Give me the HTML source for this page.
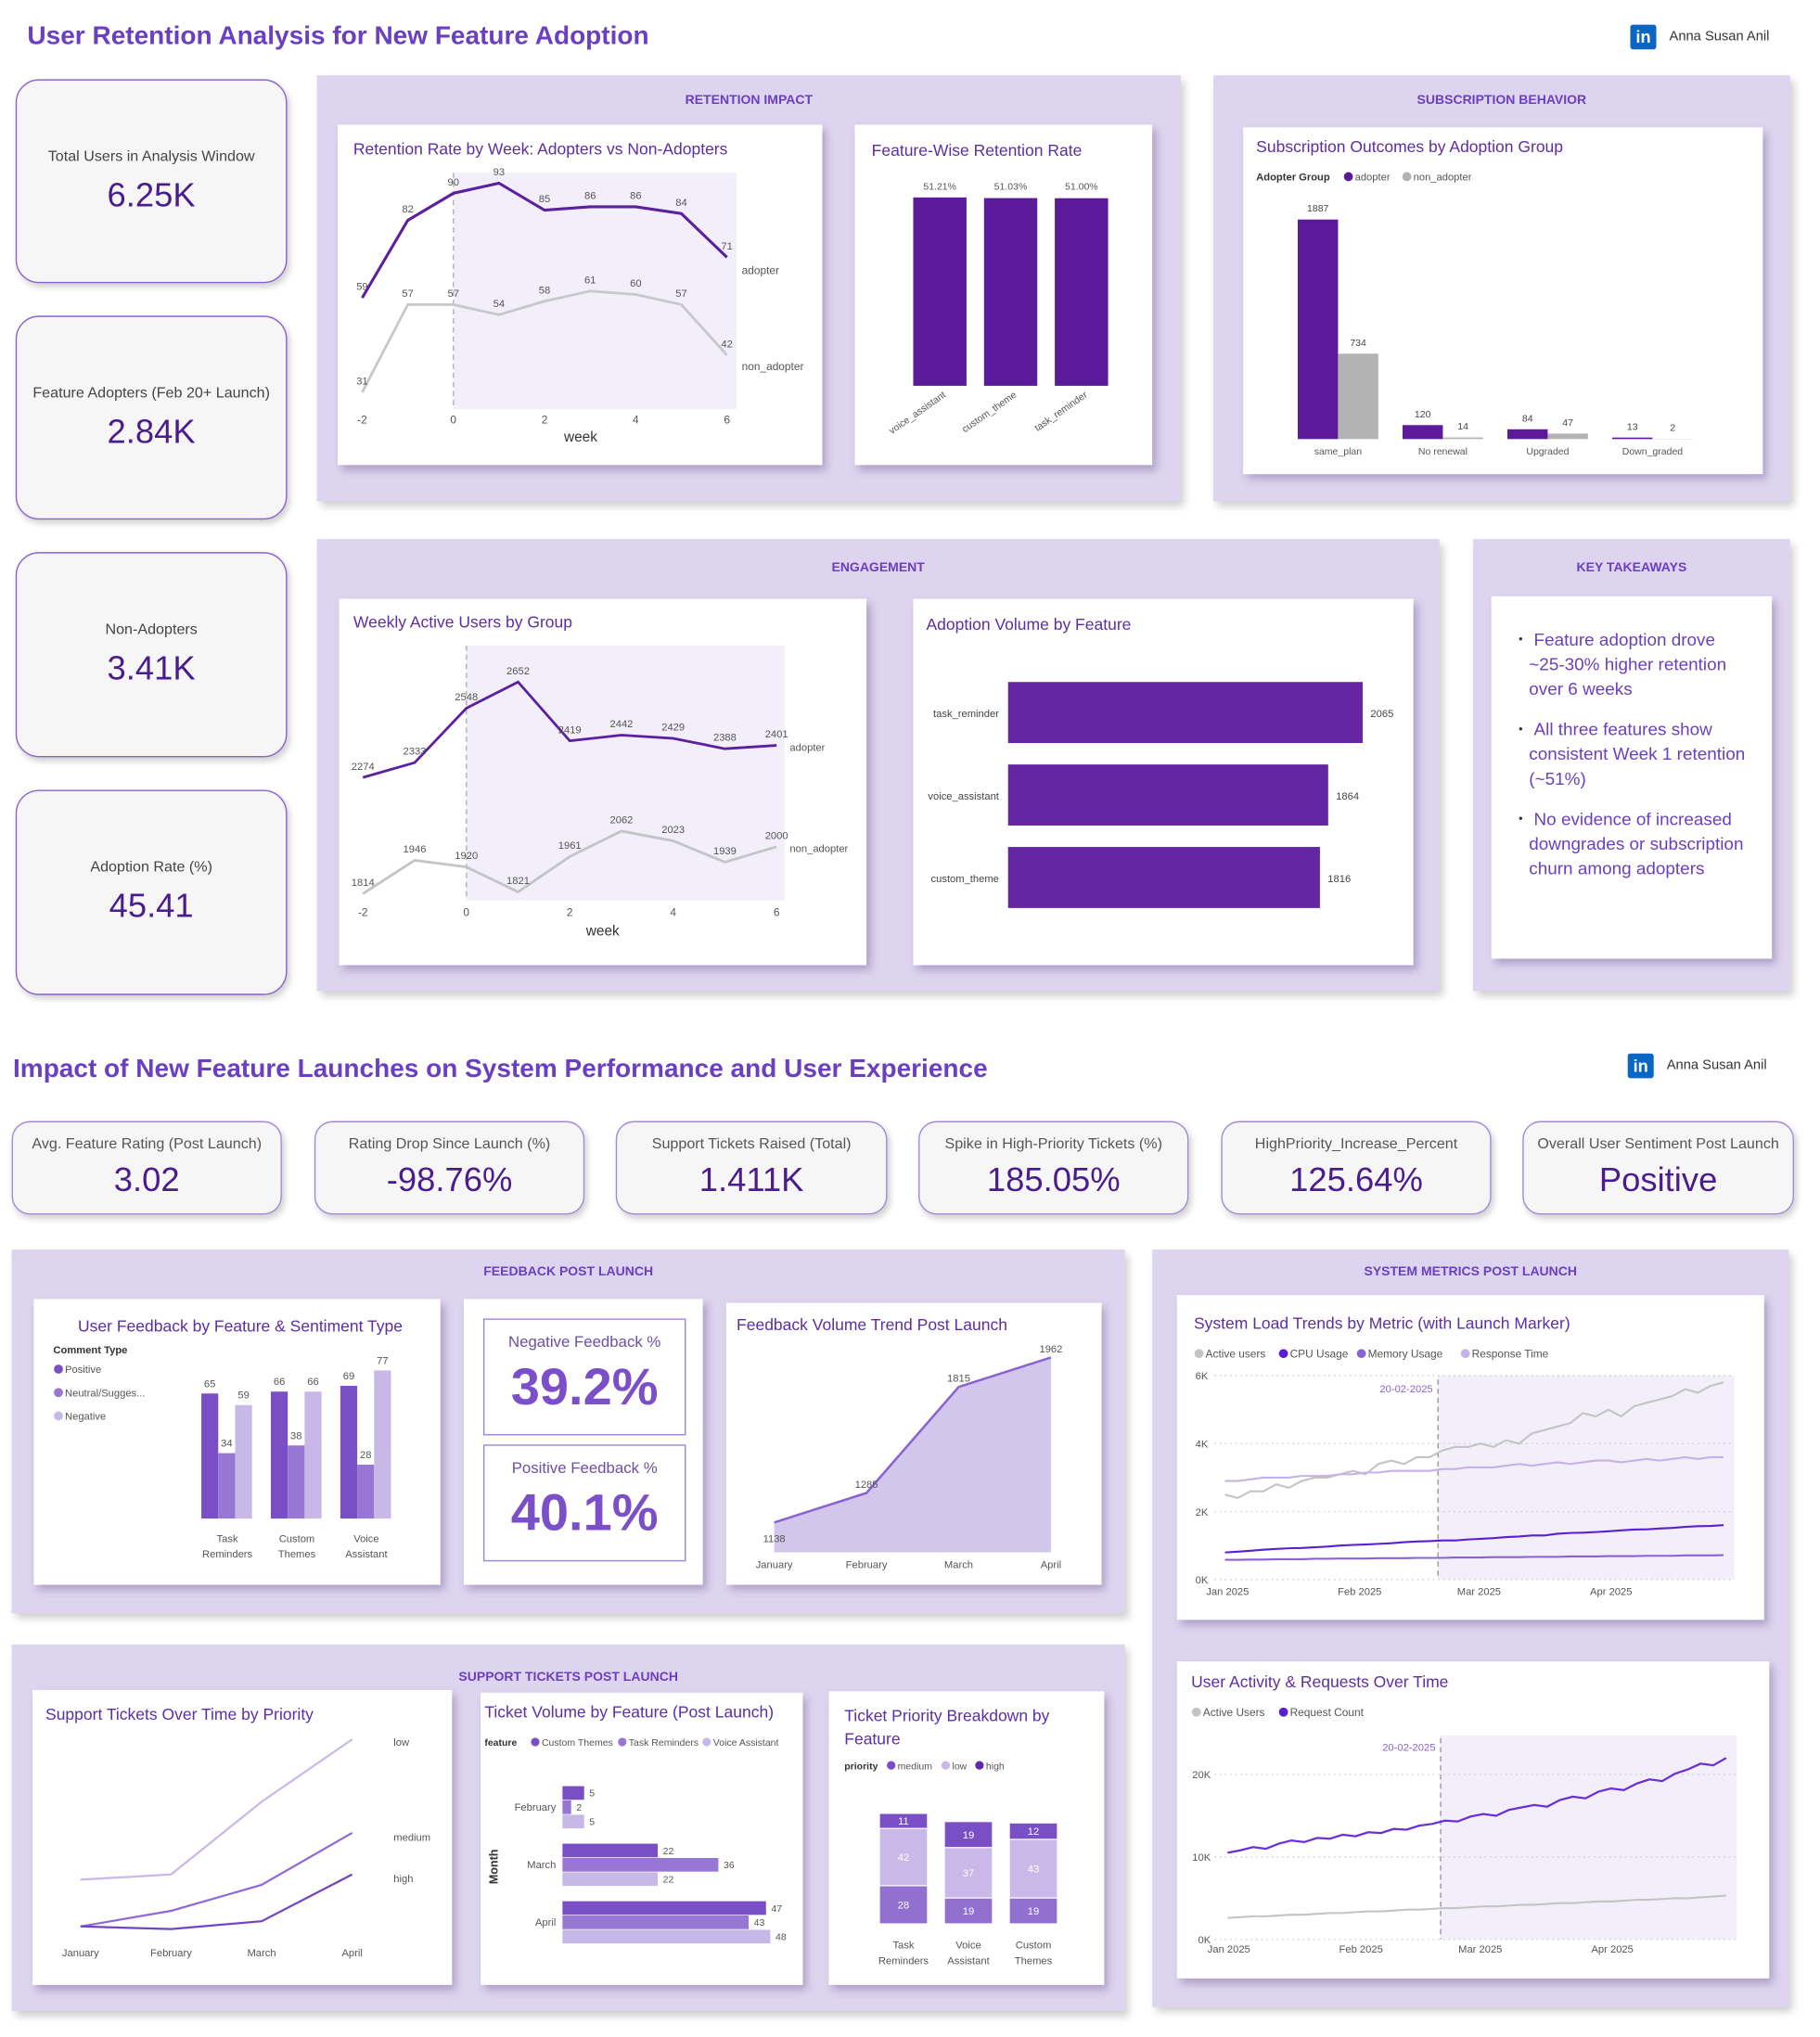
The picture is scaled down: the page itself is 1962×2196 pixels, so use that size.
<!DOCTYPE html>
<html><head><meta charset="utf-8">
<style>
html,body{margin:0;padding:0;background:#fff;}
body{width:1962px;height:2196px;overflow:hidden;font-family:"Liberation Sans",sans-serif;}
#wrap{position:absolute;left:0;top:0;width:1401px;height:1568px;transform:scale(1.4004);transform-origin:0 0;}
.abs{position:absolute;box-sizing:border-box;}
.title{color:#6b3fc1;font-weight:bold;font-size:20px;white-space:nowrap;}
.kpi{background:#f6f6f7;border:1.5px solid #8a63d2;border-radius:18px;box-shadow:2px 3px 5px rgba(0,0,0,.18);text-align:center;color:#444;}
.kpi .l{font-size:11.5px;color:#444;}
.kpi .v{font-size:26px;color:#4a1d8f;margin-top:8px;}
.kpi2{background:#f6f6f7;border:1.5px solid #a58ad8;border-radius:14px;box-shadow:2px 3px 5px rgba(0,0,0,.18);text-align:center;}
.kpi2 .l{font-size:11.5px;color:#555;margin-top:11px;}
.kpi2 .v{font-size:26px;color:#4a1d8f;margin-top:6px;}
.panel{background:#ddd4ef;box-shadow:3px 4px 6px rgba(0,0,0,.2);}
.ph{position:absolute;left:0;right:0;text-align:center;color:#6b3fc1;font-weight:bold;font-size:10px;}
.card{background:#fff;box-shadow:3px 4px 6px rgba(80,60,120,.35);}
.ct{position:absolute;color:#5b2ea6;font-size:12.5px;white-space:nowrap;}
.li{font-size:12px;color:#333;}
svg text{font-family:"Liberation Sans",sans-serif;}
</style></head>
<body>
<div id="wrap">
<div class="abs title" style="left:21px;top:17px">User Retention Analysis for New Feature Adoption</div>
<div class="abs" style="left:1255px;top:19px;width:20px;height:19px;background:#0a66c2;border-radius:2px;color:#fff;font-weight:bold;font-size:13px;text-align:center;line-height:19px">in</div>
<div class="abs li" style="left:1285px;top:22px;font-size:10.5px">Anna Susan Anil</div>

<div class="abs kpi" style="left:12px;top:61px;width:209px;height:157px;padding-top:53px"><div class="l">Total Users in Analysis Window</div><div class="v">6.25K</div></div>
<div class="abs kpi" style="left:12px;top:243px;width:209px;height:157px;padding-top:53px"><div class="l">Feature Adopters (Feb 20+ Launch)</div><div class="v">2.84K</div></div>
<div class="abs kpi" style="left:12px;top:425px;width:209px;height:158px;padding-top:53px"><div class="l">Non-Adopters</div><div class="v">3.41K</div></div>
<div class="abs kpi" style="left:12px;top:608px;width:209px;height:158px;padding-top:53px"><div class="l">Adoption Rate (%)</div><div class="v">45.41</div></div>

<div class="abs panel" style="left:244px;top:58px;width:665px;height:328px"><div class="ph" style="top:14px">RETENTION IMPACT</div></div>
<div class="abs card" style="left:260px;top:96px;width:373px;height:262px"><div class="ct" style="left:12px;top:12px">Retention Rate by Week: Adopters vs Non-Adopters</div></div>
<div class="abs card" style="left:658px;top:96px;width:229px;height:262px"><div class="ct" style="left:13px;top:13px">Feature-Wise Retention Rate</div></div>

<div class="abs panel" style="left:934px;top:58px;width:444px;height:328px"><div class="ph" style="top:14px">SUBSCRIPTION BEHAVIOR</div></div>
<div class="abs card" style="left:957px;top:98px;width:400px;height:267px"><div class="ct" style="left:10px;top:8px">Subscription Outcomes by Adoption Group</div></div>

<div class="abs panel" style="left:244px;top:415px;width:864px;height:348px"><div class="ph" style="top:17px">ENGAGEMENT</div></div>
<div class="abs card" style="left:261px;top:461px;width:406px;height:282px"><div class="ct" style="left:11px;top:11px">Weekly Active Users by Group</div></div>
<div class="abs card" style="left:703px;top:461px;width:385px;height:282px"><div class="ct" style="left:10px;top:13px">Adoption Volume by Feature</div></div>

<div class="abs panel" style="left:1134px;top:415px;width:244px;height:348px"><div class="ph" style="top:17px">KEY TAKEAWAYS</div></div>
<div class="abs card" style="left:1148px;top:459px;width:216px;height:279px;color:#6b3fc1;font-size:13.5px;line-height:19px">
<div class="abs" style="left:29px;top:24px;width:168px"><span style="position:absolute;left:-8px;font-size:9px;color:#333">•</span>&nbsp;Feature adoption drove ~25-30% higher retention over 6 weeks</div>
<div class="abs" style="left:29px;top:93px;width:168px"><span style="position:absolute;left:-8px;font-size:9px;color:#333">•</span>&nbsp;All three features show consistent Week 1 retention (~51%)</div>
<div class="abs" style="left:29px;top:162px;width:168px"><span style="position:absolute;left:-8px;font-size:9px;color:#333">•</span>&nbsp;No evidence of increased downgrades or subscription churn among adopters</div>
</div>

<div class="abs title" style="left:10px;top:812px">Impact of New Feature Launches on System Performance and User Experience</div>
<div class="abs" style="left:1253px;top:811px;width:20px;height:19px;background:#0a66c2;border-radius:2px;color:#fff;font-weight:bold;font-size:13px;text-align:center;line-height:19px">in</div>
<div class="abs li" style="left:1283px;top:814px;font-size:10.5px">Anna Susan Anil</div>

<div class="abs kpi2" style="left:9px;top:863px;width:208px;height:72px"><div class="l">Avg. Feature Rating (Post Launch)</div><div class="v">3.02</div></div>
<div class="abs kpi2" style="left:242px;top:863px;width:208px;height:72px"><div class="l">Rating Drop Since Launch (%)</div><div class="v">-98.76%</div></div>
<div class="abs kpi2" style="left:474px;top:863px;width:209px;height:72px"><div class="l">Support Tickets Raised (Total)</div><div class="v">1.411K</div></div>
<div class="abs kpi2" style="left:707px;top:863px;width:208px;height:72px"><div class="l">Spike in High-Priority Tickets (%)</div><div class="v">185.05%</div></div>
<div class="abs kpi2" style="left:940px;top:863px;width:208px;height:72px"><div class="l">HighPriority_Increase_Percent</div><div class="v">125.64%</div></div>
<div class="abs kpi2" style="left:1172px;top:863px;width:209px;height:72px"><div class="l">Overall User Sentiment Post Launch</div><div class="v">Positive</div></div>

<div class="abs panel" style="left:9px;top:962px;width:857px;height:280px"><div class="ph" style="top:12px">FEEDBACK POST LAUNCH</div></div>
<div class="abs card" style="left:26px;top:1000px;width:313px;height:220px"><div class="ct" style="left:34px;top:14px">User Feedback by Feature &amp; Sentiment Type</div></div>
<div class="abs card" style="left:357px;top:1000px;width:184px;height:220px">
<div class="abs" style="left:15px;top:15px;width:156px;height:90px;border:1.5px solid #9f86d6;text-align:center"><div style="font-size:12px;color:#6b4fa8;margin-top:10px">Negative Feedback %</div><div style="font-size:40px;font-weight:bold;color:#7a4fc8;margin-top:6px">39.2%</div></div>
<div class="abs" style="left:15px;top:112px;width:156px;height:90px;border:1.5px solid #9f86d6;text-align:center"><div style="font-size:12px;color:#6b4fa8;margin-top:10px">Positive Feedback %</div><div style="font-size:40px;font-weight:bold;color:#7a4fc8;margin-top:6px">40.1%</div></div>
</div>
<div class="abs card" style="left:559px;top:1003px;width:289px;height:217px"><div class="ct" style="left:8px;top:10px">Feedback Volume Trend Post Launch</div></div>

<div class="abs panel" style="left:887px;top:962px;width:490px;height:583px"><div class="ph" style="top:12px">SYSTEM METRICS POST LAUNCH</div></div>
<div class="abs card" style="left:906px;top:997px;width:452px;height:250px"><div class="ct" style="left:13px;top:15px">System Load Trends by Metric (with Launch Marker)</div></div>
<div class="abs card" style="left:906px;top:1279px;width:456px;height:244px"><div class="ct" style="left:11px;top:9px">User Activity &amp; Requests Over Time</div></div>

<div class="abs panel" style="left:9px;top:1266px;width:857px;height:282px"><div class="ph" style="top:20px">SUPPORT TICKETS POST LAUNCH</div></div>
<div class="abs card" style="left:25px;top:1301px;width:323px;height:227px"><div class="ct" style="left:10px;top:12px">Support Tickets Over Time by Priority</div></div>
<div class="abs card" style="left:370px;top:1303px;width:248px;height:225px"><div class="ct" style="left:3px;top:8px">Ticket Volume by Feature (Post Launch)</div></div>
<div class="abs card" style="left:638px;top:1302px;width:212px;height:226px"><div class="ct" style="left:12px;top:10px;line-height:18px">Ticket Priority Breakdown by<br>Feature</div></div>

<svg id="charts" class="abs" style="left:0;top:0" width="1401" height="1568" viewBox="0 0 1401 1568"></svg>
</div>

<script>
// ---- Retention by week
const retWeeks=[-2,-1,0,1,2,3,4,5,6];
const retAdopter=[59,82,90,93,85,86,86,84,71];
const retNon=[31,57,57,54,58,61,60,57,42];
const retTicks=[-2,0,2,4,6];
// ---- Feature retention
const featNames=['voice_assistant','custom_theme','task_reminder'];
const featRet=[51.21,51.03,51.00];
const featLabels=['51.21%','51.03%','51.00%'];
// ---- Subscription
const subCats=['same_plan','No renewal','Upgraded','Down_graded'];
const subAdopter=[1887,120,84,13];
const subNon=[734,14,47,2];
// ---- WAU
const wauWeeks=[-2,-1,0,1,2,3,4,5,6];
const wauAdopter=[2274,2333,2548,2652,2419,2442,2429,2388,2401];
const wauNon=[1814,1946,1920,1821,1961,2062,2023,1939,2000];
// ---- Adoption volume
const advFeat=['task_reminder','voice_assistant','custom_theme'];
const advVals=[2065,1864,1816];
// ---- Feedback sentiment
const fbFeat=[['Task','Reminders'],['Custom','Themes'],['Voice','Assistant']];
const fbPos=[65,66,69];
const fbNeu=[34,38,28];
const fbNeg=[59,66,77];
// ---- Feedback volume
const fvMonths=['January','February','March','April'];
const fvVals=[1138,1285,1815,1962];
// ---- System load (every 3 days from Jan 1)
const sysActive=[2.5,2.4,2.6,2.6,2.8,2.7,2.9,3.0,3.0,3.1,3.2,3.1,3.4,3.5,3.4,3.6,3.6,3.8,3.9,3.9,4.0,3.9,4.1,4.0,4.3,4.4,4.5,4.6,4.9,4.8,5.0,4.8,5.1,5.2,5.3,5.4,5.6,5.5,5.7,5.8];
const sysResponse=[2.9,2.9,2.95,3.0,3.0,3.0,3.05,3.05,3.05,3.1,3.1,3.15,3.15,3.2,3.2,3.2,3.2,3.25,3.25,3.3,3.3,3.3,3.35,3.4,3.35,3.4,3.45,3.4,3.45,3.5,3.5,3.45,3.5,3.55,3.5,3.55,3.6,3.55,3.6,3.6];
const sysCpu=[0.8,0.82,0.85,0.88,0.9,0.92,0.93,0.95,0.97,1.0,1.02,1.03,1.05,1.07,1.1,1.12,1.13,1.15,1.15,1.18,1.2,1.22,1.25,1.27,1.3,1.3,1.35,1.37,1.38,1.4,1.42,1.45,1.47,1.48,1.5,1.52,1.55,1.57,1.58,1.6];
const sysMem=[0.58,0.58,0.59,0.59,0.6,0.6,0.6,0.61,0.61,0.62,0.62,0.62,0.63,0.63,0.63,0.64,0.64,0.64,0.65,0.65,0.65,0.66,0.66,0.66,0.67,0.67,0.67,0.68,0.68,0.68,0.69,0.69,0.69,0.7,0.7,0.7,0.71,0.71,0.71,0.72];
const sysTicks=[0,2,4,6];
const dateTicks=['Jan 2025','Feb 2025','Mar 2025','Apr 2025'];
const dateTickDays=[0,31,59,90];
const launchDay=50;
// ---- User activity
const uaRequests=[10.5,10.8,11.2,11.0,11.6,12.0,11.8,12.3,12.2,12.7,12.5,13.0,12.9,13.4,13.3,13.8,14.0,14.4,14.3,14.9,15.2,15.0,15.7,16.0,16.3,16.1,16.9,17.3,17.1,17.9,18.3,18.1,18.9,19.4,19.2,20.1,20.6,21.3,21.1,22.0];
const uaActive=[2.6,2.7,2.8,2.8,2.9,3.0,3.0,3.1,3.2,3.2,3.3,3.4,3.4,3.5,3.6,3.6,3.7,3.8,3.8,3.9,4.0,4.0,4.1,4.2,4.2,4.3,4.4,4.4,4.5,4.6,4.6,4.7,4.8,4.8,4.9,5.0,5.0,5.1,5.2,5.3];
const uaTicks=[0,10,20];
// ---- Tickets over time
const tkMonths=['January','February','March','April'];
const tkLow=[10,11,25,37];
const tkMedium=[1,4,9,19];
const tkHigh=[1,0.5,2,11];
// ---- Ticket volume by feature
const tvMonths=['February','March','April'];
const tvCustom=[5,22,47];
const tvTask=[2,36,43];
const tvVoice=[5,22,48];
// ---- Ticket priority
const tpFeat=[['Task','Reminders'],['Voice','Assistant'],['Custom','Themes']];
const tpHigh=[28,19,19];
const tpLow=[42,37,43];
const tpMedium=[11,19,12];

const S=document.getElementById('charts');
const NS='http://www.w3.org/2000/svg';
function mk(tag,a){const e=document.createElementNS(NS,tag);for(const k in a)e.setAttribute(k,a[k]);S.appendChild(e);return e;}
function tx(x,y,s,size,fill,anchor,extra){const e=mk('text',Object.assign({x:x,y:y,'font-size':size,fill:fill||'#555','text-anchor':anchor||'middle'},extra||{}));e.textContent=s;return e;}
function pts(xs,ys){return xs.map((x,i)=>x.toFixed(1)+','+ys[i].toFixed(1)).join(' ');}

// Retention chart
(function(){
 const X=w=>349+w*35.1, Y=v=>302-(v-31)*2.597;
 let r=mk('rect',{x:X(0),y:133,width:567-X(0),height:182,fill:'#f2eefa'});
 
 let d=mk('line',{x1:X(0),x2:X(0),y1:133,y2:315,stroke:'#bbb','stroke-dasharray':'4,3','stroke-width':1.2});
 
 let l1=mk('polyline',{points:pts(retWeeks.map(X),retNon.map(Y)),fill:'none',stroke:'#c8c8cc','stroke-width':2});
 
 let l2=mk('polyline',{points:pts(retWeeks.map(X),retAdopter.map(Y)),fill:'none',stroke:'#5b1fa0','stroke-width':2.2});
 
 retWeeks.forEach((w,i)=>{
  let a=tx(X(w),Y(retAdopter[i])-6,retAdopter[i],8,'#555');
  let b=tx(X(w),Y(retNon[i])-6,retNon[i],8,'#555');
 });
 retTicks.forEach(t=>{let e=tx(X(t),326,t,8.5,'#555');});
 let xt=tx(447,340,'week',11,'#333');
 let s1=tx(571,211,'adopter',8.5,'#555','start');
 let s2=tx(571,285,'non_adopter',8.5,'#555','start');
})();

// Feature retention bars
(function(){
 const base=297,k=145/51.21;
 featNames.forEach((f,i)=>{
  const cx=723.5+i*54.5,h=featRet[i]*k;
  let b=mk('rect',{x:cx-20.5,y:base-h,width:41,height:h,fill:'#5b1a9a'});
  
  let l=tx(cx,146,featLabels[i],7.5,'#555');
  let c=tx(cx+5,305,f,7.5,'#555','end',{transform:`rotate(-35 ${cx+5} 305)`});
 });
})();

// Subscription grouped bars
(function(){
 const base=338,k=169/1887;
 let lg=tx(967,139,'Adopter Group',8,'#333','start',{'font-weight':'bold'});
 let c1=mk('circle',{cx:1038,cy:136,r:3.5,fill:'#5b1a9a'});
 let t1=tx(1043,139,'adopter',8,'#555','start');
 let c2=mk('circle',{cx:1083,cy:136,r:3.5,fill:'#b3b3b3'});
 let t2=tx(1088,139,'non_adopter',8,'#555','start');
 subCats.forEach((c,i)=>{
  const cx=1030+i*80.7;
  const ha=subAdopter[i]*k,hn=subNon[i]*k;
  let a=mk('rect',{x:cx-31,y:base-ha,width:31,height:ha,fill:'#5b1a9a'});
  let n=mk('rect',{x:cx,y:base-hn,width:31,height:hn,fill:'#b3b3b3'});
  let la=tx(cx-15.5,base-ha-6,subAdopter[i],7.5,'#444');
  let ln=tx(cx+15.5,base-hn-6,subNon[i],7.5,'#444');
  let cl=tx(cx,350,c,7.5,'#555');
 });
})();

// WAU chart
(function(){
 const X=w=>359+w*39.8, Y=v=>688-(v-1814)*0.1945;
 let bg=mk('rect',{x:X(0),y:497,width:604-X(0),height:196,fill:'#f2eefa'});
 let d=mk('line',{x1:X(0),x2:X(0),y1:497,y2:693,stroke:'#bbb','stroke-dasharray':'4,3','stroke-width':1.2});
 let l1=mk('polyline',{points:pts(wauWeeks.map(X),wauNon.map(Y)),fill:'none',stroke:'#c3c3c8','stroke-width':2});
 let l2=mk('polyline',{points:pts(wauWeeks.map(X),wauAdopter.map(Y)),fill:'none',stroke:'#5b1fa0','stroke-width':2});
 wauWeeks.forEach((w,i)=>{
  let a=tx(X(w),Y(wauAdopter[i])-6,wauAdopter[i],8,'#555');
  let b=tx(X(w),Y(wauNon[i])-6,wauNon[i],8,'#555');
 });
 retTicks.forEach(t=>{let e=tx(X(t),705,t,8.5,'#555');});
 let xt=tx(464,720,'week',11,'#333');
 let s1=tx(608,578,'adopter',8,'#555','start');
 let s2=tx(608,656,'non_adopter',8,'#555','start');
})();

// Adoption volume horizontal bars
(function(){
 const x0=776,k=273/2065;
 advFeat.forEach((f,i)=>{
  const y=525+i*63.5,w=advVals[i]*k;
  let b=mk('rect',{x:x0,y:y,width:w,height:47,fill:'#6426a3'});
  let v=tx(x0+w+6,y+27,advVals[i],8,'#444','start');
  let c=tx(769,y+27,f,8,'#444','end');
 });
})();

// Feedback sentiment grouped bars
(function(){
 const base=1169,k=114/77,cols=['#7a4fc6','#9877d4','#c8b8e8'];
 let lt=tx(41,1042,'Comment Type',8,'#333','start',{'font-weight':'bold'});
 ['Positive','Neutral/Sugges...','Negative'].forEach((n,i)=>{
  let c=mk('circle',{cx:45,cy:1054+i*18,r:3.5,fill:cols[i]});
  let t=tx(50,1057+i*18,n,8,'#555','start');
 });
 fbFeat.forEach((f,i)=>{
  const gx=155+i*53.5;
  [fbPos,fbNeu,fbNeg].forEach((arr,j)=>{
   const h=arr[i]*k,x=gx+j*13;
   let b=mk('rect',{x:x,y:base-h,width:13,height:h,fill:cols[j]});
   let v=tx(x+6.5,base-h-5,arr[i],8,'#555');
  });
  let a=tx(gx+20,1187,f[0],8,'#555');
  let b=tx(gx+20,1199,f[1],8,'#555');
 });
})();

// Feedback volume area
(function(){
 const X=i=>596+i*71, Y=v=>1172-(v-1138)*0.1541;
 const xs=fvMonths.map((m,i)=>X(i)),ys=fvVals.map(Y);
 let ar=mk('polygon',{points:pts(xs,ys)+` ${X(3)},1195 ${X(0)},1195`,fill:'#d3c6ec'});
 let ln=mk('polyline',{points:pts(xs,ys),fill:'none',stroke:'#8a63d2','stroke-width':1.8});
 fvMonths.forEach((m,i)=>{
  let v=tx(xs[i],ys[i]+(i==0?15:-4),fvVals[i],8,'#555');
  let t=tx(xs[i],1207,m,8,'#555');
 });
})();

// System load
(function(){
 const X=d=>943+d*3.28, Y=v=>1216-v*26.17;
 const days=sysActive.map((v,i)=>i*3);
 let sh=mk('rect',{x:X(launchDay),y:1059,width:1335-X(launchDay),height:157,fill:'#f2eefa'});
 sysTicks.forEach(t=>{
  let g=mk('line',{x1:935,x2:1335,y1:Y(t),y2:Y(t),stroke:'#ccc','stroke-dasharray':'1,3'});
  let l=tx(930,Y(t)+3,t+'K',8,'#555','end');
 });
 dateTicks.forEach((d,i)=>{let l=tx(X(dateTickDays[i])+2,1228,d,8,'#555');});
 let lm=mk('line',{x1:X(launchDay),x2:X(launchDay),y1:1062,y2:1216,stroke:'#999','stroke-dasharray':'4,3'});
 let lt=tx(X(launchDay)-4,1072,'20-02-2025',8,'#8a63d2','end');
 const ser=[[sysActive,'#c4c4c4','active-users-line'],[sysResponse,'#c4b2ea','response-time-line'],[sysCpu,'#5a1fd0','cpu-usage-line'],[sysMem,'#8a63d2','memory-usage-line']];
 ser.forEach(s=>{let p=mk('polyline',{points:pts(days.map(X),s[0].map(Y)),fill:'none',stroke:s[1],'stroke-width':1.5});});
 const lg=[['Active users','#c4c4c4',920],['CPU Usage','#5a1fd0',985],['Memory Usage','#8a63d2',1045],['Response Time','#c4b2ea',1125]];
 lg.forEach(e=>{let c=mk('circle',{cx:e[2]+3,cy:1042,r:3.5,fill:e[1]});
  let t=tx(e[2]+8,1045,e[0],8.5,'#555','start');});
})();

// User activity
(function(){
 const X=d=>945+d*3.28, Y=v=>1493-v*6.35;
 const days=uaRequests.map((v,i)=>i*3);
 let sh=mk('rect',{x:X(launchDay),y:1336,width:1337-X(launchDay),height:157,fill:'#f2eefa'});
 uaTicks.forEach(t=>{
  let g=mk('line',{x1:935,x2:1337,y1:Y(t),y2:Y(t),stroke:'#ccc','stroke-dasharray':'1,3'});
  let l=tx(932,Y(t)+3,t+'K',8,'#555','end');
 });
 dateTicks.forEach((d,i)=>{let l=tx(X(dateTickDays[i])+1,1503,d,8,'#555');});
 let lm=mk('line',{x1:X(launchDay),x2:X(launchDay),y1:1338,y2:1493,stroke:'#999','stroke-dasharray':'4,3'});
 let lt=tx(X(launchDay)-4,1348,'20-02-2025',8,'#8a63d2','end');
 let a=mk('polyline',{points:pts(days.map(X),uaActive.map(Y)),fill:'none',stroke:'#c4c4c4','stroke-width':1.5});
 let r=mk('polyline',{points:pts(days.map(X),uaRequests.map(Y)),fill:'none',stroke:'#6a2fd6','stroke-width':1.6});
 [['Active Users','#c4c4c4',918],['Request Count','#5a1fd0',985]].forEach(e=>{let c=mk('circle',{cx:e[2]+3,cy:1318,r:3.5,fill:e[1]});
  let t=tx(e[2]+8,1321,e[0],8.5,'#555','start');});
})();

// Tickets over time
(function(){
 const X=i=>62+i*69.7, Y=v=>1487-v*4;
 const xs=tkMonths.map((m,i)=>X(i));
 [[tkLow,'#c9b8e8','low-priority-line'],[tkMedium,'#8f6ad6','medium-priority-line'],[tkHigh,'#7045c4','high-priority-line']].forEach(s=>{
  let p=mk('polyline',{points:pts(xs,s[0].map(Y)),fill:'none',stroke:s[1],'stroke-width':1.6});
 });
 let a=tx(303,1344,'low',8,'#555','start');
 let b=tx(303,1417,'medium',8,'#555','start');
 let c=tx(303,1449,'high',8,'#555','start');
 tkMonths.forEach((m,i)=>{let t=tx(xs[i],1506,m,8,'#555');});
})();

// Ticket volume by feature
(function(){
 const x0=433,k=160/48,cols=['#7a4fc6','#9877d4','#c8b8e8'];
 let lt=tx(373,1344,'feature',7.5,'#333','start',{'font-weight':'bold'});
 [['Custom Themes',409],['Task Reminders',476],['Voice Assistant',541]].forEach((e,i)=>{let c=mk('circle',{cx:e[1]+3,cy:1341,r:3.3,fill:cols[i]});
  let t=tx(e[1]+8,1344,e[0],7.5,'#555','start');});
 let ma=tx(383,1437,'Month',9,'#333','middle',{'font-weight':'bold',transform:'rotate(-90 383 1437)'});
 tvMonths.forEach((m,i)=>{
  const gy=1375+i*44.3;
  [tvCustom,tvTask,tvVoice].forEach((arr,j)=>{
   const w=arr[i]*k,y=gy+j*11;
   let b=mk('rect',{x:x0,y:y,width:w,height:10.5,fill:cols[j]});
   let v=tx(x0+w+4,y+8,arr[i],7.5,'#555','start');
  });
  let t=tx(428,gy+19,m,8,'#555','end');
 });
})();

// Ticket priority stacked
(function(){
 const base=1481,k=85/81,cols={high:'#9170d0',low:'#c9b8e8',medium:'#7a4fc6'};
 let lt=tx(650,1362,'priority',7.5,'#333','start',{'font-weight':'bold'});
 [['medium',cols.medium,683],['low',cols.low,725],['high','#5b2ea6',751]].forEach(e=>{let c=mk('circle',{cx:e[2]+3,cy:1359,r:3.3,fill:e[1]});
  let t=tx(e[2]+8,1362,e[0],7.5,'#555','start');});
 tpFeat.forEach((f,i)=>{
  const x=677+i*50,w=37;let y=base;
  [[tpHigh,cols.high],[tpLow,cols.low],[tpMedium,cols.medium]].forEach(s=>{
   const h=s[0][i]*k;y-=h;
   let r=mk('rect',{x:x,y:y,width:w,height:h,fill:s[1],stroke:'#fff','stroke-width':0.8});
   let v=tx(x+w/2,y+h/2+3,s[0][i],8,'#fff');
  });
  let a=tx(x+w/2,1500,f[0],8,'#555');
  let b=tx(x+w/2,1512,f[1],8,'#555');
 });
})();
</script>
</body></html>
